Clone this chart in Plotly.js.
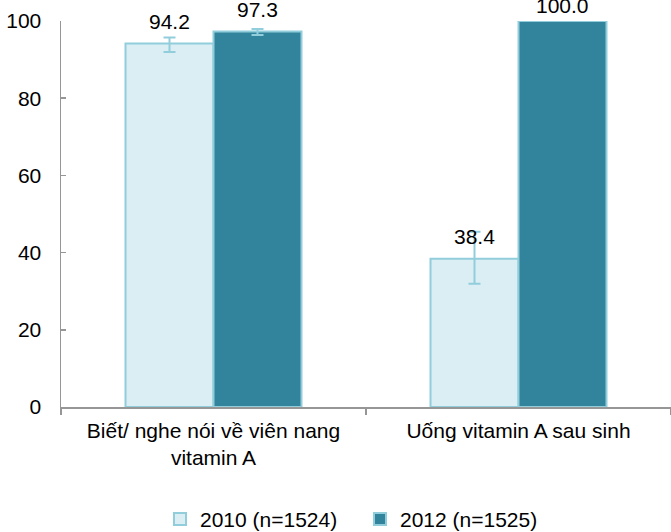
<!DOCTYPE html>
<html>
<head>
<meta charset="utf-8">
<script src="https://cdn.plot.ly/plotly-3.0.1.min.js"></script>
<style>
html,body{margin:0;padding:0;background:#fff;}
#chart{width:671px;height:532px;}
</style>
</head>
<body>
<div id="chart"></div>
<script>
// ---- data ----
var categories = ["Biết/ nghe nói về viên nang<br>vitamin A", "Uống vitamin A sau sinh"];
var seriesNames = ["2010 (n=1524)", "2012 (n=1525)"];
var values2010 = [94.2, 38.4];
var values2012 = [97.3, 100.0];
var errPlus2010 = [1.5, 7.0];
var errMinus2010 = [2.2, 6.5];
var errPlus2012 = [0.6, null];
var errMinus2012 = [0.9, null];
var yTicks = [0, 20, 40, 60, 80, 100];

var FONT = "'Liberation Sans', Arial, sans-serif";
var BORDER = "#92cddc";
var ERR = "#92cddc";

function barTrace(name, vals, plus, minus, fill) {
  return {
    type: "bar",
    name: name,
    x: categories,
    y: vals,
    marker: { color: fill, line: { color: BORDER, width: 2 } },
    error_y: { type: "data", array: plus, arrayminus: minus, symmetric: false,
               color: ERR, thickness: 2, width: 6, visible: true },
    hoverinfo: "none"
  };
}

var traces = [
  barTrace(seriesNames[0], values2010, errPlus2010, errMinus2010, "#dbeef4"),
  barTrace(seriesNames[1], values2012, errPlus2012, errMinus2012, "#31849b")
];

// value labels
var bargap = 0.423;
var plotW = 671 - 61;
var catW = plotW / categories.length;
var barW = catW * (1 - bargap) / 2;
var annotations = [];
[values2010, values2012].forEach(function (vals, si) {
  vals.forEach(function (v, ci) {
    annotations.push({
      x: categories[ci], y: v, xref: "x", yref: "y",
      text: v.toFixed(1), showarrow: false,
      xshift: (si === 0 ? -1 : 1) * barW / 2,
      yshift: Math.min(22, 15.5 + (100 - v) * 3.86),
      yanchor: "middle",
      font: { family: FONT, size: 21, color: "#000" }
    });
  });
});

var layout = {
  width: 671, height: 532,
  margin: { l: 61, r: 0, t: 21, b: 125, pad: 0 },
  paper_bgcolor: "#fff", plot_bgcolor: "#fff",
  font: { family: FONT, size: 21, color: "#000" },
  barmode: "group",
  bargap: bargap,
  bargroupgap: 0,
  showlegend: true,
  legend: {
    orientation: "h",
    xref: "container", x: 160 / 671, xanchor: "left",
    yref: "container", y: 0.024, yanchor: "middle",
    entrywidth: 155, entrywidthmode: "pixels",
    font: { family: FONT, size: 21, color: "#000" },
    itemclick: false, itemdoubleclick: false
  },
  xaxis: {
    type: "category",
    showline: true, linecolor: "#969696", linewidth: 1.5,
    ticks: "outside", tickson: "boundaries", ticklen: 6, tickcolor: "#969696", tickwidth: 1.5,
    showgrid: false, zeroline: false,
    tickfont: { family: FONT, size: 21, color: "#000" },
    ticklabelstandoff: 4,
    fixedrange: true
  },
  yaxis: {
    range: [0, 100],
    tickvals: yTicks, ticktext: yTicks.map(String),
    showline: true, linecolor: "#969696", linewidth: 1.5,
    ticks: "inside", ticklen: 5, tickcolor: "#969696", tickwidth: 1.5,
    showgrid: false, zeroline: false,
    tickfont: { family: FONT, size: 21, color: "#000" },
    ticklabelstandoff: 14,
    fixedrange: true
  },
  annotations: annotations
};

Plotly.newPlot("chart", traces, layout, { displayModeBar: false, staticPlot: true });
</script>
</body>
</html>
